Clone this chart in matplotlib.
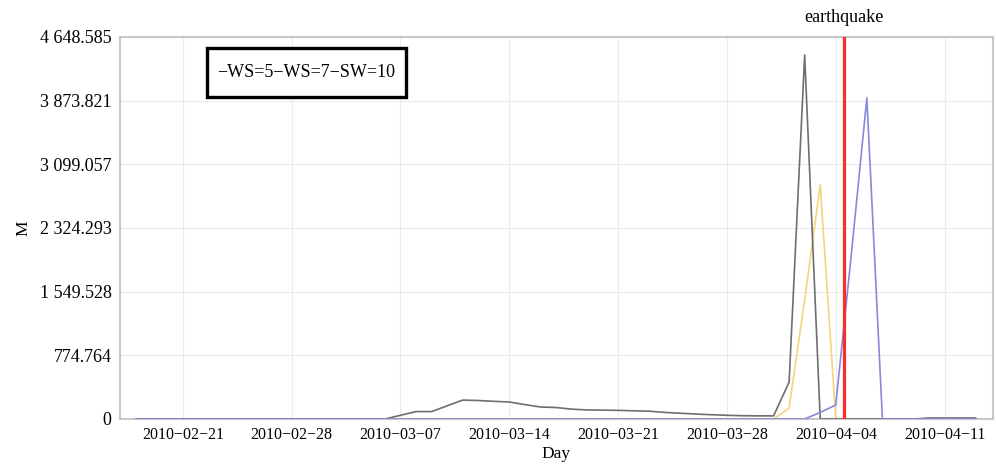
import numpy as np
import pandas as pd
import matplotlib
matplotlib.use("Agg")
import matplotlib.pyplot as plt
import matplotlib.dates as mdates
from matplotlib.patches import Rectangle

plt.rcParams['font.family'] = ['Liberation Serif', 'DejaVu Serif']

days = pd.date_range("2010-02-18", "2010-04-13", freq="D")

# values per day, 2010-02-18 .. 2010-04-13 (55 days)
ws5 = [0]*17 + [45, 90, 90, 160, 230, 225, 215, 207, 175, 146, 140, 120, 110, 108,
                105, 100, 95, 80, 70, 60, 52, 45, 40, 38, 38, 450, 4430, 0,
                0, 0, 0, 0, 0, 0, 12, 12, 12, 12]
ws7 = [0]*42 + [134, 1450, 2848, 0] + [0]*9
sw10 = [0]*44 + [80, 170, 2000, 3907, 0] + [0]*6

yticks = [0, 774.764, 1549.528, 2324.293, 3099.057, 3873.821, 4648.585]
ytick_labels = ["0", "774.764", "1 549.528", "2 324.293", "3 099.057", "3 873.821", "4 648.585"]
xticks = pd.date_range("2010-02-21", "2010-04-11", freq="7D")
quake = pd.Timestamp("2010-04-04 13:00")

fig = plt.figure(figsize=(9.96, 4.67), dpi=100)
ax = fig.add_axes([0.1205, 0.1028, 0.876, 0.818])

ax.plot(days, ws7, color="#f2d57a", lw=1.2, zorder=3)
ax.plot(days, ws5, color="#6e6e6e", lw=1.2, zorder=3)
ax.plot(days, sw10, color="#8888d8", lw=1.2, zorder=3)
ax.axvline(quake, color="#ff2a2a", lw=2.3, zorder=4)
ax.text(quake, 1.03, "earthquake", transform=ax.get_xaxis_transform(),
        ha="center", va="bottom", fontsize=13)

ax.set_xlim(pd.Timestamp("2010-02-16 23:00"), pd.Timestamp("2010-04-14 02:00"))
ax.set_ylim(0, 4648.585)
ax.set_yticks(yticks)
ax.set_yticklabels(ytick_labels, fontsize=13)
ax.set_xticks(xticks)
ax.xaxis.set_major_formatter(mdates.DateFormatter("%Y\u2212%m\u2212%d"))
for lab in ax.get_xticklabels():
    lab.set_fontsize(11.5)
ax.tick_params(length=0, pad=6)
ax.grid(True, color="#ebebeb", lw=0.8)
ax.set_axisbelow(True)
for s in ax.spines.values():
    s.set_color("#c8c8c8")
    s.set_linewidth(1.5)

ax.set_xlabel("Day", fontsize=12.5, labelpad=2)
ax.set_ylabel("M", fontsize=12.5, labelpad=6)

# legend box
ax.add_patch(Rectangle((0.0997, 0.843), 0.228, 0.128, transform=ax.transAxes,
                       fill=True, facecolor="white", edgecolor="black", lw=2.4, zorder=5))
ax.text(0.213, 0.907, "\u2212WS=5\u2212WS=7\u2212SW=10", transform=ax.transAxes,
        ha="center", va="center", fontsize=13, zorder=6)

fig.savefig("out.png", dpi=100)
